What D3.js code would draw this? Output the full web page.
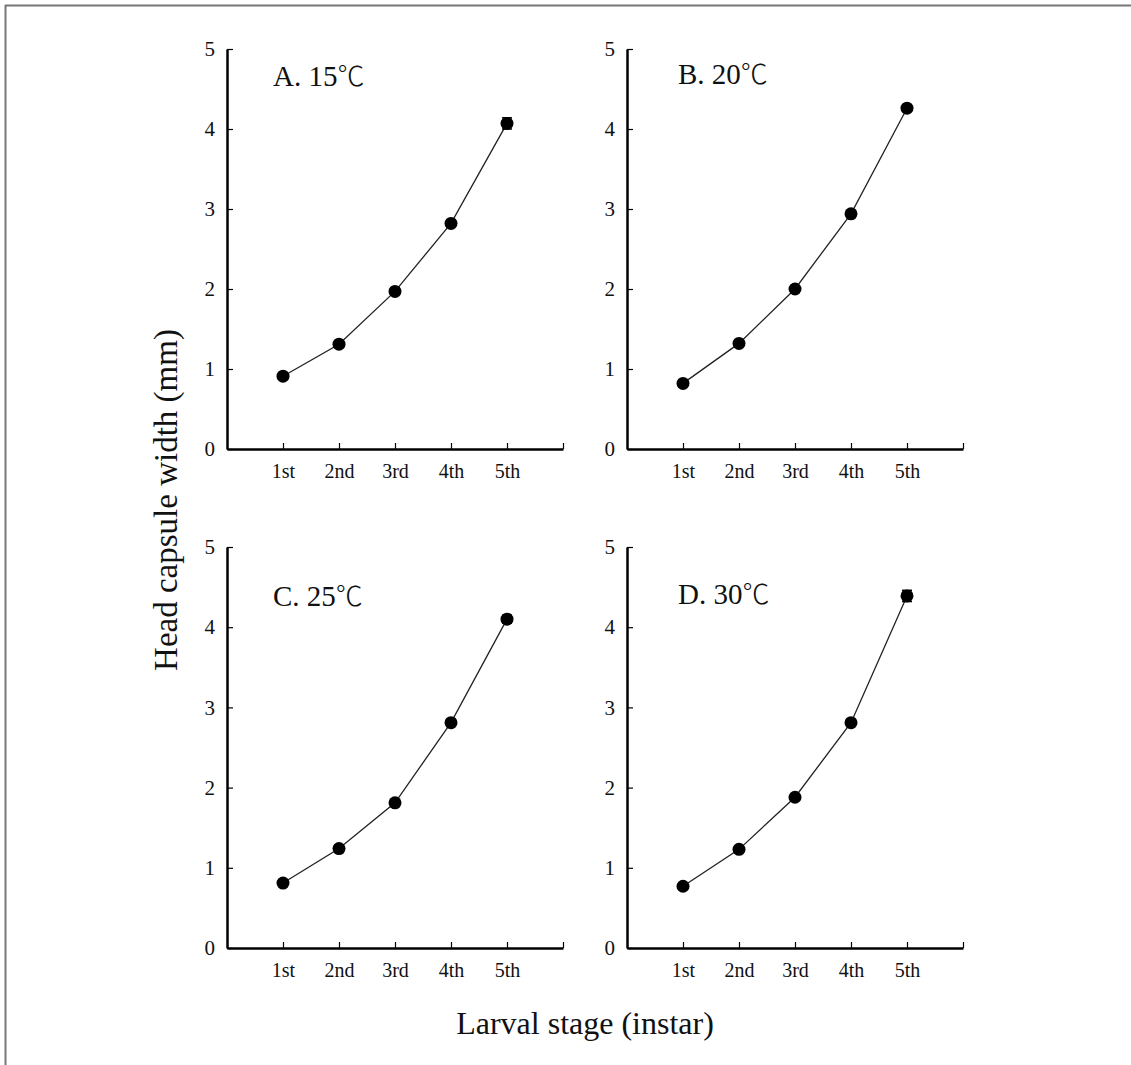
<!DOCTYPE html>
<html>
<head>
<meta charset="utf-8">
<script src="https://cdn.jsdelivr.net/npm/d3@7"></script>
<style>
  html, body { margin: 0; padding: 0; background: #fff; }
  svg { display: block; }
  text { font-family: "Liberation Serif", "Times New Roman", serif; fill: #111; }
</style>
</head>
<body>
<svg id="chart" width="1131" height="1065"></svg>
<script>
// ---- data ----
const stages = ["1st", "2nd", "3rd", "4th", "5th"];
const yTicks = [0, 1, 2, 3, 4, 5];
const panelLetters = ["A. 15", "B. 20", "C. 25", "D. 30"];
const degreeSign = "℃";
const meansA = [0.91, 1.31, 1.97, 2.82, 4.07];
const errsA  = [0.03, 0.03, 0.03, 0.03, 0.07];
const meansB = [0.82, 1.32, 2.00, 2.94, 4.26];
const errsB  = [0.03, 0.03, 0.03, 0.03, 0.04];
const meansC = [0.81, 1.24, 1.81, 2.81, 4.10];
const errsC  = [0.03, 0.03, 0.03, 0.03, 0.05];
const meansD = [0.77, 1.23, 1.88, 2.81, 4.39];
const errsD  = [0.03, 0.03, 0.03, 0.03, 0.07];
const yLabel = "Head capsule width (mm)";
const xLabel = "Larval stage (instar)";

const seriesList = [
  {title: panelLetters[0], means: meansA, errs: errsA},
  {title: panelLetters[1], means: meansB, errs: errsB},
  {title: panelLetters[2], means: meansC, errs: errsC},
  {title: panelLetters[3], means: meansD, errs: errsD}
];

// ---- layout ----
const svg = d3.select("#chart");
const panelLayout = [
  {x0: 227, x1: 563, y0: 449, y1: 49, tx: 273, ty: 86},
  {x0: 627, x1: 963, y0: 449, y1: 49, tx: 678, ty: 84},
  {x0: 227, x1: 563, y0: 948, y1: 547, tx: 273, ty: 606},
  {x0: 627, x1: 963, y0: 948, y1: 547, tx: 678, ty: 604}
];

// frame (top and left only)
svg.append("line").attr("x1", 5).attr("x2", 1131).attr("y1", 5.5).attr("y2", 5.5)
  .attr("stroke", "#777").attr("stroke-width", 2);
svg.append("line").attr("x1", 5.5).attr("x2", 5.5).attr("y1", 5).attr("y2", 1065)
  .attr("stroke", "#777").attr("stroke-width", 2);

seriesList.forEach((s, i) => {
  const L = panelLayout[i];
  const x = d3.scaleLinear().domain([0, stages.length + 1]).range([L.x0, L.x1]);
  const y = d3.scaleLinear().domain([0, 5]).range([L.y0, L.y1]);
  const g = svg.append("g");

  // y axis
  const yAxis = d3.axisLeft(y).tickValues(yTicks).tickSizeInner(-6).tickSizeOuter(0)
    .tickPadding(12).tickFormat(d3.format("d"));
  const ya = g.append("g").attr("transform", `translate(${L.x0},0)`).call(yAxis);
  ya.attr("font-family", null);
  ya.select(".domain").attr("stroke", "#000").attr("stroke-width", 2.5);
  ya.selectAll(".tick line").attr("stroke", "#000").attr("stroke-width", 1.2);
  ya.selectAll(".tick text").attr("font-size", 21).attr("fill", "#222");

  // x axis
  const xVals = d3.range(1, stages.length + 2);
  const xAxis = d3.axisBottom(x).tickValues(xVals).tickSizeInner(-6).tickSizeOuter(0)
    .tickPadding(15).tickFormat(d => stages[d - 1] || "");
  const xa = g.append("g").attr("transform", `translate(0,${L.y0})`).call(xAxis);
  xa.attr("font-family", null);
  xa.select(".domain").attr("stroke", "#000").attr("stroke-width", 2.5);
  xa.selectAll(".tick line").attr("stroke", "#000").attr("stroke-width", 1.2);
  xa.selectAll(".tick text").attr("font-size", 20).attr("fill", "#222");

  const pts = s.means.map((m, k) => ({k: k + 1, m: m, e: s.errs[k]}));

  // line
  g.append("path").datum(pts)
    .attr("d", d3.line().x(d => x(d.k)).y(d => y(d.m)))
    .attr("fill", "none").attr("stroke", "#222").attr("stroke-width", 1.3);

  // error bars
  const eb = g.selectAll(".eb").data(pts).enter().append("g");
  eb.append("line").attr("x1", d => x(d.k)).attr("x2", d => x(d.k))
    .attr("y1", d => y(d.m - d.e)).attr("y2", d => y(d.m + d.e))
    .attr("stroke", "#000").attr("stroke-width", 1.5);
  eb.append("line").attr("x1", d => x(d.k) - 5).attr("x2", d => x(d.k) + 5)
    .attr("y1", d => y(d.m + d.e)).attr("y2", d => y(d.m + d.e))
    .attr("stroke", "#000").attr("stroke-width", 1.5);
  eb.append("line").attr("x1", d => x(d.k) - 5).attr("x2", d => x(d.k) + 5)
    .attr("y1", d => y(d.m - d.e)).attr("y2", d => y(d.m - d.e))
    .attr("stroke", "#000").attr("stroke-width", 1.5);

  // markers
  g.selectAll(".pt").data(pts).enter().append("circle")
    .attr("cx", d => x(d.k)).attr("cy", d => y(d.m)).attr("r", 6.5)
    .attr("fill", "#000");

  // panel title
  const t = g.append("text").attr("x", L.tx).attr("y", L.ty).attr("font-size", 29);
  t.append("tspan").text(s.title);
  t.append("tspan").attr("font-family", "'Noto Sans CJK SC', sans-serif")
    .attr("font-weight", 300).attr("font-size", 27).text(degreeSign);
});

// axis titles
svg.append("text")
  .attr("transform", "translate(177,500) rotate(-90)")
  .attr("text-anchor", "middle").attr("font-size", 33)
  .text(yLabel);
svg.append("text")
  .attr("x", 585).attr("y", 1034)
  .attr("text-anchor", "middle").attr("font-size", 32)
  .text(xLabel);
</script>
</body>
</html>
